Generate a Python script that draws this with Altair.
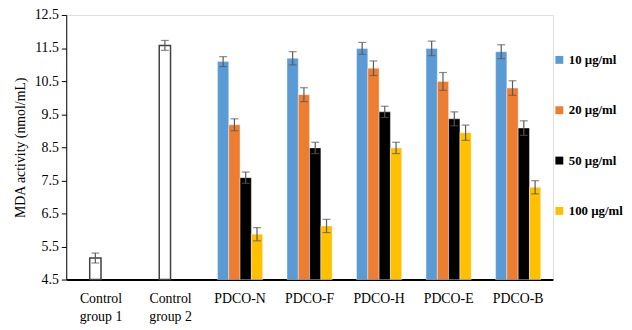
import altair as alt
import pandas as pd

categories = ["Control group 1", "Control group 2", "PDCO-N", "PDCO-F", "PDCO-H", "PDCO-E", "PDCO-B"]
groups = ["PDCO-N", "PDCO-F", "PDCO-H", "PDCO-E", "PDCO-B"]
series = ["10 µg/ml", "20 µg/ml", "50 µg/ml", "100 µg/ml"]
colors = ["#5B9BD5", "#ED7D31", "#000000", "#FFC000"]
y_ticks = [4.5, 5.5, 6.5, 7.5, 8.5, 9.5, 10.5, 11.5, 12.5]

vals_10 = [11.09, 11.19, 11.49, 11.49, 11.39]
vals_20 = [9.18, 10.09, 10.89, 10.49, 10.29]
vals_50 = [7.58, 8.48, 9.57, 9.36, 9.08]
vals_100 = [5.87, 6.12, 8.48, 8.94, 7.29]
err_10 = [0.15, 0.20, 0.18, 0.22, 0.21]
err_20 = [0.18, 0.21, 0.22, 0.27, 0.22]
err_50 = [0.17, 0.17, 0.17, 0.21, 0.22]
err_100 = [0.20, 0.20, 0.17, 0.23, 0.20]

controls = ["Control group 1", "Control group 2"]
control_vals = [5.15, 11.58]
control_errs = [0.15, 0.15]

rows = []
for s, vs, es in zip(series, [vals_10, vals_20, vals_50, vals_100], [err_10, err_20, err_50, err_100]):
    for g, v, e in zip(groups, vs, es):
        rows.append({"group": g, "series": s, "value": v, "lo": v - e, "hi": v + e})
df = pd.DataFrame(rows)

crows = []
for g, v, e in zip(controls, control_vals, control_errs):
    crows.append({"group": g, "series": series[1], "value": v, "lo": v - e, "hi": v + e})
cdf = pd.DataFrame(crows)
alldf = pd.concat([df, cdf], ignore_index=True)

FONT = "Liberation Serif"

x = alt.X("group:N", sort=categories,
          scale=alt.Scale(domain=categories, paddingInner=0.35, paddingOuter=0.175),
          axis=alt.Axis(title=None, ticks=False, labelAngle=0, labelFont=FONT, labelFontSize=14,
                        labelColor="black", labelPadding=12, labelLineHeight=19,
                        labelExpr="split(replace(datum.label, ' group', '|group'), '|')",
                        domainColor="black", domainWidth=2))
xo = alt.XOffset("series:N", scale=alt.Scale(domain=series, paddingInner=0, paddingOuter=0))
yscale = alt.Scale(domain=[4.5, 12.5], zero=False, nice=False)
yaxis = alt.Axis(title="MDA activity (nmol/mL)", values=y_ticks, tickCount=9, labelOverlap=False,
                 format=".1f", grid=False, labelFont=FONT, labelFontSize=14, labelColor="black",
                 titleFont=FONT, titleFontSize=14, titleFontWeight="normal", titleColor="black",
                 titlePadding=7, domainColor="black", tickColor="black", tickSize=5,
                 labelPadding=3)
y = alt.Y("value:Q", scale=yscale, axis=yaxis)

bars = alt.Chart(df).mark_bar(stroke="white", strokeWidth=0.4).encode(
    x=x, xOffset=xo, y=y, y2=alt.datum(4.5),
    color=alt.Color("series:N", scale=alt.Scale(domain=series, range=colors),
                    legend=alt.Legend(title=None, orient="none", legendX=493, legendY=39,
                                      symbolType="square", symbolSize=64, symbolStrokeWidth=0,
                                      labelFont=FONT, labelFontSize=13, labelFontWeight="bold",
                                      labelColor="black", rowPadding=37, labelOffset=3))
)

cbars = alt.Chart(cdf).mark_bar(fill="white", stroke="#404040", strokeWidth=1.5).encode(
    x=x, xOffset=xo, y=y, y2=alt.datum(4.5)
)

rules = alt.Chart(alldf).mark_rule(color="#595959", strokeWidth=1.2).encode(
    x=x, xOffset=xo, y=alt.Y("lo:Q", scale=yscale, axis=yaxis), y2="hi:Q"
)
cap_hi = alt.Chart(alldf).mark_tick(color="#595959", size=8, thickness=1.2, orient="horizontal").encode(
    x=x, xOffset=xo, y=alt.Y("hi:Q", scale=yscale, axis=yaxis)
)
cap_lo = alt.Chart(alldf).mark_tick(color="#595959", size=8, thickness=1.2, orient="horizontal").encode(
    x=x, xOffset=xo, y=alt.Y("lo:Q", scale=yscale, axis=yaxis)
)

chart = alt.layer(bars, cbars, rules, cap_hi, cap_lo).properties(
    width=493, height=268,
    autosize=alt.AutoSizeParams(type="none"),
    padding={"left": 59, "top": 5, "right": 72, "bottom": 45},
).configure_view(stroke=None).configure(background="white")

chart.save("out.html", embed_options={"renderer": "svg", "actions": False})
